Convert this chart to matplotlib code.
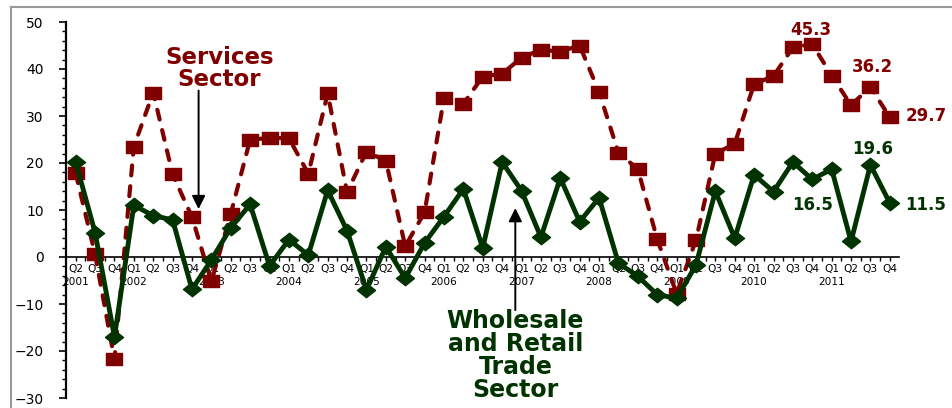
import matplotlib.pyplot as plt
from matplotlib.path import Path
import numpy as np

# Quarterly index values, Q2 2001 .. Q4 2011
quarters = (["Q2", "Q3", "Q4"] + ["Q1", "Q2", "Q3", "Q4"] * 10)
years = ["2001"] + [str(y) for y in range(2002, 2012)]

services = [17.8, 0.6, -21.8, 23.5, 35.0, 17.6, 8.5, -5.2, 9.2, 25.0,
            25.3, 25.3, 17.7, 34.8, 13.8, 22.4, 20.5, 2.3, 9.5, 33.8,
            32.6, 38.4, 39.0, 42.4, 44.1, 43.7, 45.0, 35.1, 22.2, 18.7,
            3.8, -7.8, 3.6, 22.0, 24.1, 36.8, 38.5, 44.6, 45.3, 38.6,
            32.3, 36.2, 29.7]
wholesale = [20.2, 5.2, -17.0, 11.0, 8.8, 7.9, -6.9, -0.6, 6.2, 11.2,
             -1.9, 3.7, 0.4, 14.2, 5.6, -7.0, 2.2, -4.5, 3.0, 8.6,
             14.5, 1.9, 20.2, 14.1, 4.2, 16.8, 7.5, 12.6, -1.3, -4.1,
             -8.0, -8.8, -1.7, 14.0, 4.0, 17.5, 13.9, 20.2, 16.5, 18.7,
             3.3, 19.6, 11.5]

red = "#800000"
green = "#003300"

x = np.arange(len(services))

# tick labels: year under the first quarter of each year
labels = []
yi = 0
for i, q in enumerate(quarters):
    if i == 0 or q == "Q1":
        labels.append(q + "\n" + years[yi])
        yi += 1
    else:
        labels.append(q)

fig = plt.figure(figsize=(9.53, 4.08), dpi=100)
ax = fig.add_axes([66 / 953, 10 / 408, 833.5 / 953, 376 / 408])

# wide markers (source image is stretched horizontally)
sq = Path([(-1, -0.68), (1, -0.68), (1, 0.68), (-1, 0.68), (-1, -0.68)],
          [Path.MOVETO, Path.LINETO, Path.LINETO, Path.LINETO, Path.CLOSEPOLY])
dia = Path([(-1, 0), (0, 0.8), (1, 0), (0, -0.8), (-1, 0)],
           [Path.MOVETO, Path.LINETO, Path.LINETO, Path.LINETO, Path.CLOSEPOLY])

ax.plot(x, services, color=red, lw=3, dashes=(2.4, 2.6),
        dash_capstyle="round", marker=sq, markersize=12, zorder=3)
ax.plot(x, wholesale, color=green, lw=3.5, marker=dia, markersize=13,
        zorder=4)

ax.set_xlim(-0.5, len(x) - 0.5)
ax.set_ylim(-30, 50)

for s in ["top", "right"]:
    ax.spines[s].set_visible(False)
ax.spines["bottom"].set_position(("data", 0))
ax.spines["left"].set_linewidth(1.6)
ax.spines["bottom"].set_linewidth(1.2)

ax.set_xticks(x)
ax.set_xticklabels(labels, fontsize=7.6, linespacing=1.35)
ax.set_xticks(x[:-1] + 0.5, minor=True)
ax.tick_params(axis="x", which="both", direction="out", length=3, pad=2,
               width=1)
ax.set_yticks(np.arange(-30, 51, 10))
ax.set_yticks(np.arange(-30, 51, 2), minor=True)
ax.tick_params(axis="y", which="major", length=5, width=1.2, pad=11,
               labelsize=10)
ax.tick_params(axis="y", which="minor", length=3, width=1)

# annotations
ax.text(7.42, 40.2, "Services\nSector", color=red, fontsize=16.5,
        fontweight="bold", ha="center", va="center", linespacing=0.95)
ax.annotate("", xy=(6.34, 9.6), xytext=(6.34, 36),
            arrowprops=dict(arrowstyle="-|>", color="black", lw=1.4,
                            mutation_scale=20))
ax.text(22.68, -20.9, "Wholesale\nand Retail\nTrade\nSector", color=green,
        fontsize=17, fontweight="bold", ha="center", va="center",
        linespacing=0.95)
ax.annotate("", xy=(22.68, 11), xytext=(22.68, -11.9),
            arrowprops=dict(arrowstyle="-|>", color="black", lw=1.4,
                            mutation_scale=20))

lab = dict(fontsize=12, fontweight="bold")
ax.text(37.9, 48.3, "45.3", color=red, ha="center", va="center", **lab)
ax.text(41.1, 40.4, "36.2", color=red, ha="center", va="center", **lab)
ax.text(42.8, 30, "29.7", color=red, ha="left", va="center", **lab)
ax.text(41.1, 23, "19.6", color=green, ha="center", va="center", **lab)
ax.text(38, 11, "16.5", color=green, ha="center", va="center", **lab)
ax.text(42.8, 11, "11.5", color=green, ha="left", va="center", **lab)

# chart area border (left and top edges visible)
fig.add_artist(plt.Line2D([11 / 953, 11 / 953], [0, 1 - 6.5 / 408],
                          color="#999999", lw=1.5))
fig.add_artist(plt.Line2D([11 / 953, 1], [1 - 6.5 / 408, 1 - 6.5 / 408],
                          color="#999999", lw=1.5))

fig.savefig("out.png", dpi=100)
